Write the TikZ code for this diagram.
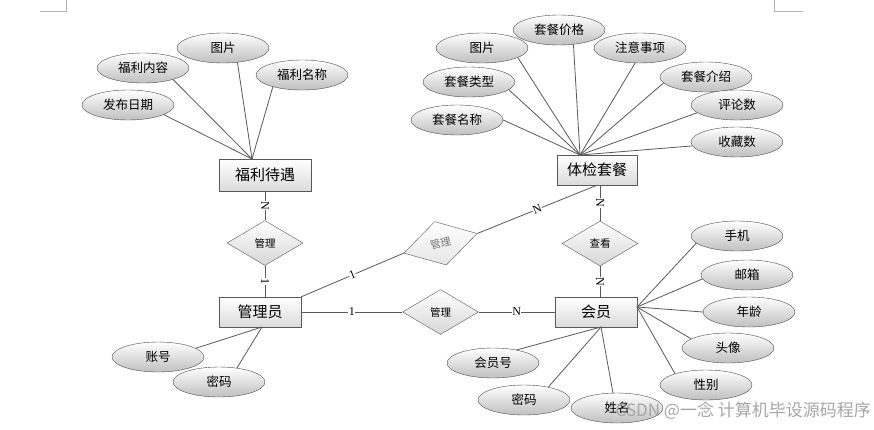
\documentclass[tikz,border=0pt]{standalone}
\usepackage{fontspec}
\setmainfont{Liberation Serif}
\newfontfamily\cjk{Noto Sans CJK SC}
\usetikzlibrary{shapes.geometric}
\begin{document}
\begin{tikzpicture}[x=1pt,y=-1pt,
  ent/.style={rectangle,draw=black!65,top color=white,bottom color=black!14,minimum width=82pt,minimum height=30pt,inner sep=0pt,font=\cjk\fontsize{15}{15}\selectfont},
  attr/.style={ellipse,draw=black!70,top color=white,bottom color=black!25,minimum width=92pt,minimum height=30pt,inner sep=0pt,font=\cjk\fontsize{12.5}{12.5}\selectfont},
  rel/.style={diamond,draw=black!65,top color=white,bottom color=black!16,minimum width=76pt,minimum height=45pt,inner sep=0pt,font=\cjk\fontsize{10.5}{10.5}\selectfont},
  link/.style={draw=black!65,line width=0.8pt},
  card/.style={font=\fontsize{12}{12}\selectfont,fill=white,inner sep=0.4pt,sloped,pos=0.5},
  pagemark/.style={draw=black!30,line width=0.8pt}
]
\useasboundingbox (0,0) rectangle (874,429);
\fill[white] (0,0) rectangle (874,429);

% page corner marks
\coordinate (m1) at (40,11); \coordinate (m2) at (66,11); \coordinate (m3) at (66,0);
\coordinate (m4) at (774,0); \coordinate (m5) at (774,11); \coordinate (m6) at (803,11);
\draw[pagemark] (m1) -- (m2) -- (m3);
\draw[pagemark] (m4) -- (m5) -- (m6);

% entities
\node[ent,minimum width=92pt,minimum height=32pt] (fl) at (265,175) {福利待遇};
\node[ent,minimum width=80pt] (tj) at (597,170) {体检套餐};
\node[ent] (adm) at (260,312) {管理员};
\node[ent] (hy) at (596,312) {会员};

% relations
\node[rel] (d1) at (265,243) {管理};
\node[rel,rotate=15,text=black!55,bottom color=black!10] (rd) at (440.5,243.3) {管理};
\node[rel] (d2) at (440.5,312) {管理};
\node[rel] (d3) at (600,243.5) {查看};

% attributes of 福利待遇
\node[attr] (f1) at (223,48) {图片};
\node[attr] (f2) at (143,68) {福利内容};
\node[attr] (f3) at (302,75) {福利名称};
\node[attr] (f4) at (128,105) {发布日期};
\coordinate (flt) at (252,159);
\draw[link] (f1.-45) -- (flt);
\draw[link] (f2.-21) -- (flt);
\draw[link] (f3.-158) -- (flt);
\draw[link] (f4.-15) -- (flt);

% attributes of 体检套餐
\node[attr] (t1) at (559,30) {套餐价格};
\node[attr] (t2) at (482,48) {图片};
\node[attr] (t3) at (640,48) {注意事项};
\node[attr] (t4) at (469,82) {套餐类型};
\node[attr] (t5) at (706,77) {套餐介绍};
\node[attr] (t6) at (457,120) {套餐名称};
\node[attr] (t7) at (737,105) {评论数};
\node[attr] (t8) at (737,142) {收藏数};
\coordinate (tjt) at (580,155);
\draw[link] (t1.-45) -- (tjt);
\draw[link] (t2.-15) -- (tjt);
\draw[link] (t3.-108) -- (tjt);
\draw[link] (t4.-11) -- (tjt);
\draw[link] (t5.-172) -- (tjt);
\draw[link] (t6.0) -- (tjt);
\draw[link] (t7.-169) -- (tjt);
\draw[link] (t8.-175) -- (tjt);

% attributes of 管理员
\node[attr] (a1) at (158,357) {账号};
\node[attr] (a2) at (219,382) {密码};
\coordinate (admb) at (262,327);
\draw[link] (a1.13) -- (admb);
\draw[link] (a2.38) -- (admb);

% attributes of 会员
\node[attr] (h1) at (737,236) {手机};
\node[attr] (h2) at (747,275) {邮箱};
\node[attr] (h3) at (749,312) {年龄};
\node[attr] (h4) at (728,348) {头像};
\node[attr] (h5) at (706,385) {性别};
\node[attr] (h6) at (493,363) {会员号};
\node[attr] (h7) at (524,400) {密码};
\node[attr] (h8) at (617,408) {姓名};
\coordinate (hyr) at (637,307);
\coordinate (hyb) at (601,327);
\draw[link] (h1.-170) -- (hyr);
\draw[link] (h2.-175) -- (hyr);
\draw[link] (h3.180) -- (hyr);
\draw[link] (h4.166) -- (hyr);
\draw[link] (h5.160) -- (hyr);
\draw[link] (h6.29.5) -- (hyb);
\draw[link] (h7.28) -- (hyb);
\draw[link] (h8.105) -- (hyb);

% relationship lines with cardinalities
\draw[link] (fl.south) -- node[card]{N} (d1.north);
\draw[link] (d1.south) -- node[card]{1} (d1.south |- adm.north);
\draw[link] (adm.north east) -- node[card]{1} (rd.west);
\draw[link] (rd.east) -- node[card]{N} (tj.south);
\draw[link] (d3.north |- tj.south) -- node[card]{N} (d3.north);
\draw[link] (d3.south) -- node[card]{N} (d3.south |- hy.north);
\draw[link] (adm.east) -- node[card]{1} (d2.west);
\draw[link] (d2.east) -- node[card]{N} (hy.west);

% watermark
\node[anchor=east,text=black!35,font=\cjk\fontsize{17}{17}\selectfont,inner sep=0pt] (wm) at (871,411) {CSDN @一念 计算机毕设源码程序};
\end{tikzpicture}
\end{document}
